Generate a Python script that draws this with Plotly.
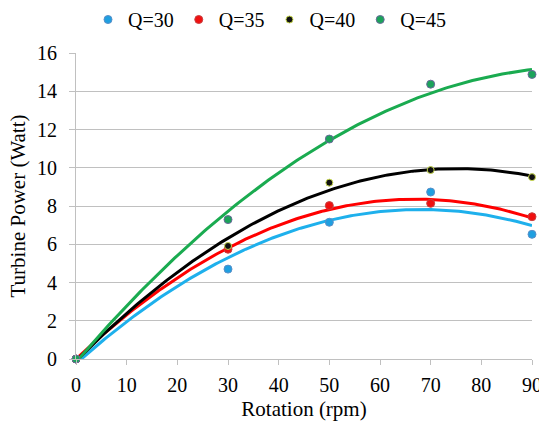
import numpy as np
import plotly.graph_objects as go

# Rotation speed (rpm) and measured turbine power (W) for each flow rate Q
rotation = [0, 30, 50, 70, 90]
power_q30 = [0, 4.70, 7.15, 8.73, 6.52]
power_q35 = [0, 5.74, 8.02, 8.14, 7.44]
power_q40 = [0, 5.91, 9.22, 9.88, 9.51]
power_q45 = [0, 7.29, 11.50, 14.37, 14.88]

series_names = ["Q=30", "Q=35", "Q=40", "Q=45"]
series_values = [power_q30, power_q35, power_q40, power_q45]
marker_colors = ["#1f9fe0", "#f01010", "#111111", "#1ba35a"]
marker_outlines = ["#5a8fc8", "#c84040", "#c8d850", "#6a6a9a"]
marker_sizes = [8, 8, 7, 8]
line_colors = ["#1eb0ec", "#ff0000", "#000000", "#1aab50"]

x_ticks = list(range(0, 91, 10))
y_ticks = list(range(0, 17, 2))

FONT = "'Liberation Serif', 'Times New Roman', Times, serif"

fig = go.Figure()

# Second-order polynomial trendline for every series
x_fine = np.linspace(0, 90, 200)
for name, vals, lc in zip(series_names, series_values, line_colors):
    coeffs = np.polyfit(rotation, vals, 2)
    fig.add_trace(go.Scatter(
        x=x_fine, y=np.polyval(coeffs, x_fine), mode="lines",
        line=dict(color=lc, width=3), showlegend=False, hoverinfo="skip",
        cliponaxis=False,
    ))

# Measured points
for name, vals, mc, oc, ms in zip(series_names, series_values, marker_colors,
                                  marker_outlines, marker_sizes):
    fig.add_trace(go.Scatter(
        x=rotation, y=vals, mode="markers", name=name,
        marker=dict(color=mc, size=ms, line=dict(color=oc, width=1)),
        cliponaxis=False,
    ))

grid = "#c0c0c0"
fig.update_layout(
    width=539, height=425,
    margin=dict(l=76, r=7, t=53, b=66),
    paper_bgcolor="white", plot_bgcolor="white",
    font=dict(family=FONT, size=20, color="#000000"),
    showlegend=True,
    legend=dict(
        orientation="h", xref="container", yref="container",
        x=0.5, xanchor="center", y=1.0, yanchor="top",
        font=dict(family=FONT, size=20, color="#000000"),
        itemwidth=30, tracegroupgap=0,
        bgcolor="rgba(0,0,0,0)",
    ),
    xaxis=dict(
        range=[0, 90], tickvals=x_ticks, ticktext=[str(v) for v in x_ticks],
        showgrid=False, zeroline=False,
        showline=True, linecolor=grid, linewidth=1,
        ticks="outside", ticklen=5, tickcolor=grid, tickwidth=1,
        tickfont=dict(family=FONT, size=20, color="#000000"),
        ticklabeloverflow="allow", ticklabelstandoff=3,
        title=dict(text="Rotation (rpm)", standoff=6,
                   font=dict(family=FONT, size=21, color="#000000")),
        automargin=False,
    ),
    yaxis=dict(
        range=[0, 16], tickvals=y_ticks, ticktext=[str(v) for v in y_ticks],
        showgrid=True, gridcolor=grid, gridwidth=1, zeroline=False,
        showline=True, linecolor=grid, linewidth=1,
        ticks="outside", ticklen=6, tickcolor=grid, tickwidth=1,
        tickfont=dict(family=FONT, size=20, color="#000000"),
        ticklabelstandoff=8,
        title=dict(text="Turbine Power (Watt)", standoff=5,
                   font=dict(family=FONT, size=21, color="#000000")),
        automargin=False,
    ),
)

fig.write_html("out.html")
